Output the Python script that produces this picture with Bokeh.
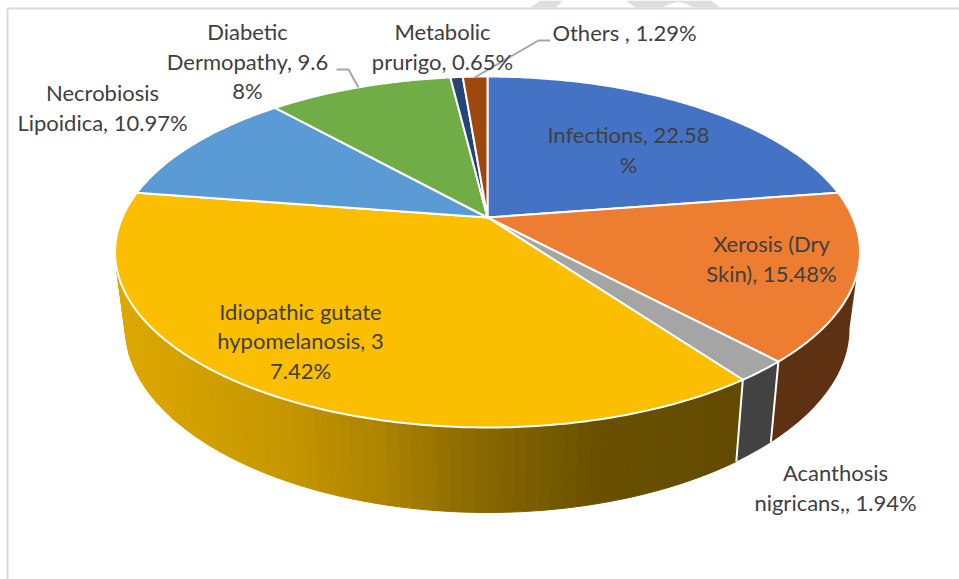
import math
from bokeh.embed import file_html
from bokeh.resources import INLINE
from bokeh.plotting import figure
from bokeh.models import Range1d
from bokeh.core.properties import value

categories = ["Infections", "Xerosis (Dry Skin)", "Acanthosis nigricans,", "Idiopathic gutate hypomelanosis",
              "Necrobiosis Lipoidica", "Diabetic Dermopathy", "Metabolic prurigo", "Others "]
shares = [22.58, 15.48, 1.94, 37.42, 10.97, 9.68, 0.65, 1.29]
top_colors = ["#4472C4", "#ED7D31", "#A5A5A5", "#FBBE00", "#5B9BD5", "#70AD47", "#264478", "#9E480E"]
side_colors = ["#2A4474", "#5F3113", "#424242", None, "#365D80", "#43682B", "#162948", "#5F2B08"]

label_lines = [
    ["Infections, 22.58", "%"],
    ["Xerosis (Dry", "Skin), 15.48%"],
    ["Acanthosis", "nigricans,, 1.94%"],
    ["Idiopathic gutate", "hypomelanosis, 3", "7.42%"],
    ["Necrobiosis", "Lipoidica, 10.97%"],
    ["Diabetic", "Dermopathy, 9.6", "8%"],
    ["Metabolic", "prurigo, 0.65%"],
    ["Others , 1.29%"],
]
label_anchor = [(628, 134), (771, 243), (835, 472), (300, 310.5), (102, 92), (247, 31), (442, 31), (624, 31.5)]
LINE_STEP = 29.5

CX = 487.0
TOP = dict(cy=217.0, a=365.2, b=168.7, c=0.1966, cx=0.1966)
BOT = dict(cy=292.5, a=354.7, b=171.3, c=0.2195, cx=0.2)


def project(theta, plane):
    u, v = math.sin(theta), math.cos(theta)
    return CX + plane["a"] * u / (1 + plane["cx"] * v), plane["cy"] - plane["b"] * v / (1 + plane["c"] * v)


def arc(t0, t1, plane):
    n = max(2, int(abs(t1 - t0) * 90))
    return [project(t0 + (t1 - t0) * i / n, plane) for i in range(n + 1)]


total = sum(shares)
edges = [0.0]
for s in shares:
    edges.append(edges[-1] + s / total * 2 * math.pi)

RIGHT_T = math.acos(-TOP["c"])
LEFT_T = 2 * math.pi - RIGHT_T

p = figure(width=959, height=579, x_range=Range1d(0, 959), y_range=Range1d(579, 0),
           output_backend="svg", toolbar_location=None, min_border=0,
           margin=(0, 0, 0, 0))
p.axis.visible = False
p.grid.visible = False
p.outline_line_color = None
p.background_fill_color = "white"
p.border_fill_color = "white"

# scraps of a watermark at the top, then the page frame
p.patches([[530, 540, 563, 555], [625, 710, 720, 693, 685, 678, 670, 662, 635]],
          [[7, 0, 0, 7], [0, 0, 7, 7, 3, 1.5, 3, 7, 7]],
          fill_color="#DEDEDE", line_color=None)
p.line([7, 7], [8, 579], line_color="#D9D9D9", line_width=2)
p.line([7, 959], [8, 8], line_color="#D9D9D9", line_width=2)


def lerp_color(x):
    stops = [(120, (0xDD, 0xA8, 0x00)), (300, (0xC4, 0x95, 0x00)), (400, (0xA9, 0x80, 0x00)),
             (480, (0x8A, 0x69, 0x00)), (600, (0x6A, 0x51, 0x00)), (740, (0x62, 0x4A, 0x00))]
    for (x0, c0), (x1, c1) in zip(stops, stops[1:]):
        if x <= x1:
            f = max(0.0, (x - x0) / (x1 - x0))
            return "#%02X%02X%02X" % tuple(round(a + (b - a) * f) for a, b in zip(c0, c1))
    return "#624A00"


# side walls of the visible (front) rim
for i in range(len(shares)):
    t0, t1 = max(edges[i], RIGHT_T), min(edges[i + 1], LEFT_T)
    if t1 <= t0:
        continue
    if side_colors[i] is None:
        n = 70
        for k in range(n):
            a0 = t0 + (t1 - t0) * k / n
            a1 = t0 + (t1 - t0) * (k + 1) / n
            pts = arc(a0, a1, TOP) + arc(a1, a0, BOT)
            col = lerp_color((pts[0][0] + pts[-1][0]) / 2)
            p.patch([q[0] for q in pts], [q[1] for q in pts], fill_color=col, line_color=col, line_width=1)
    else:
        pts = arc(t0, t1, TOP) + arc(t1, t0, BOT)
        p.patch([q[0] for q in pts], [q[1] for q in pts], fill_color=side_colors[i], line_color=None)

# white dividers on the wall
for t in edges:
    if RIGHT_T < t < LEFT_T:
        a, b = project(t, TOP), project(t, BOT)
        p.line([a[0], b[0]], [a[1], b[1]], line_color="white", line_width=2)

# top face
apex = (CX, TOP["cy"])
for i, col in enumerate(top_colors):
    pts = [apex] + arc(edges[i], edges[i + 1], TOP) + [apex]
    p.patch([q[0] for q in pts], [q[1] for q in pts], fill_color=col, line_color="white", line_width=2,
            line_join="round")

# leader lines
p.line([336, 348, 358], [69, 69, 87], line_color="#A6A6A6", line_width=2)
p.line([550, 538, 474], [40, 40, 77], line_color="#A6A6A6", line_width=2)

# labels
for lines, (ax, ay) in zip(label_lines, label_anchor):
    p.text(x=[ax] * len(lines), y=[ay + LINE_STEP * j for j in range(len(lines))], text=lines,
           text_font=value("Lato"), text_font_size="22px", text_color="#404040",
           text_align="center", text_baseline="middle")

open("out.html", "w").write(file_html(p, INLINE))
